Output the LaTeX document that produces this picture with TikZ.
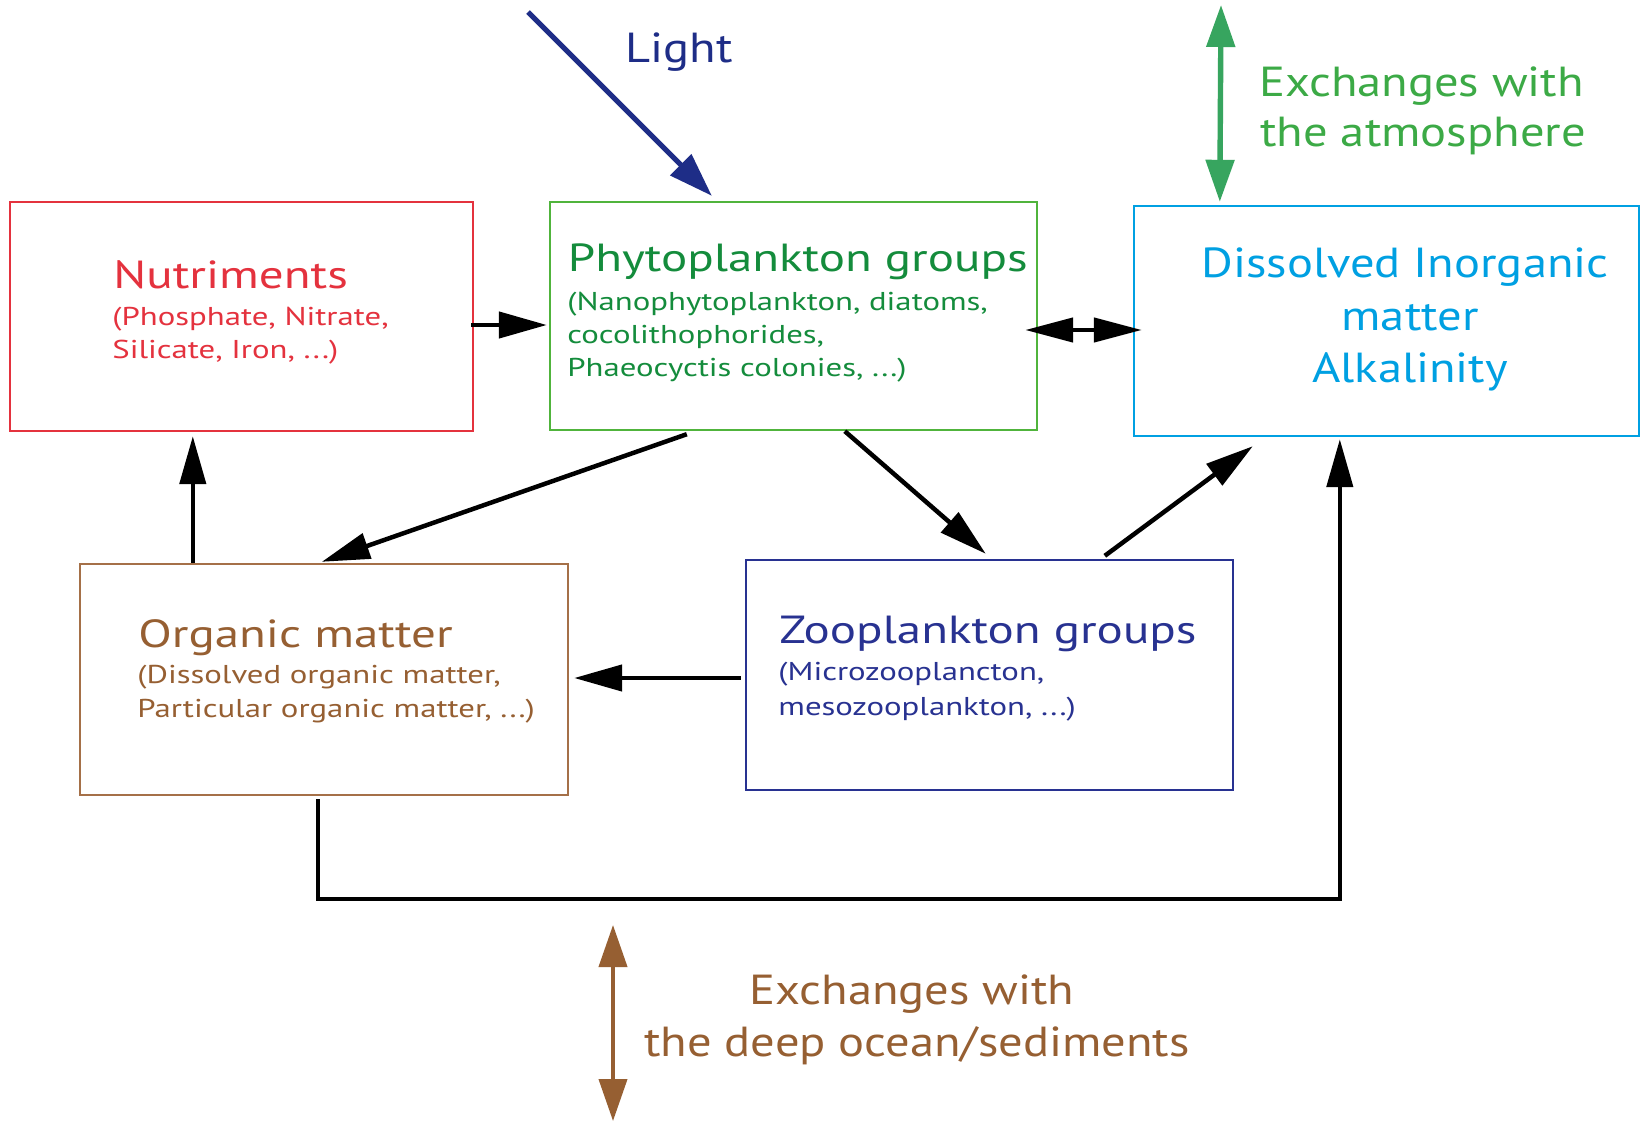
\documentclass[tikz,border=0pt]{standalone}
\usepackage{fontspec}
\setmainfont{PT Sans}
\newfontfamily\fttl[FakeStretch=1.25]{PT Sans}
\newfontfamily\fsub[FakeStretch=1.27]{PT Sans}
\newfontfamily\fbig[FakeStretch=1.155]{PT Sans}
\usetikzlibrary{arrows.meta,calc}
\definecolor{cnutr}{RGB}{228,50,62}
\definecolor{cphyb}{RGB}{80,180,60}
\definecolor{cphyt}{RGB}{20,140,60}
\definecolor{cdic}{RGB}{0,160,226}
\definecolor{catmt}{RGB}{60,170,70}
\definecolor{catma}{RGB}{55,165,95}
\definecolor{czoo}{RGB}{40,50,145}
\definecolor{clight}{RGB}{30,45,135}
\definecolor{cbrt}{RGB}{150,95,50}
\definecolor{cbrb}{RGB}{165,112,72}
\begin{document}
\begin{tikzpicture}[x=0.5pt,y=-0.5pt,
  box/.style={draw,rectangle,inner sep=0pt,line width=1.2pt},
  txt/.style={inner sep=0pt,anchor=base west},
  ttl/.style={txt,font=\fttl\fontsize{19.6}{24}\selectfont},
  sub/.style={txt,font=\fsub\fontsize{12.9}{16}\selectfont},
  big/.style={inner sep=0pt,font=\fbig\fontsize{21}{26}\selectfont},
  conn/.style={draw=black,line width=2.25pt,-{Triangle[length=24pt,width=13pt]}},
  dconn/.style={draw=black,line width=2.25pt,{Triangle[length=24pt,width=12pt]}-{Triangle[length=24pt,width=12pt]}}]
\useasboundingbox (0,0) rectangle (1641,1123);
\fill[white] (0,0) rectangle (1641,1123);
% boxes
\node[box,draw=cnutr,minimum width=231.5pt,minimum height=114.5pt] (nutr) at (241.5,316.5) {};
\node[box,draw=cphyb,minimum width=243.5pt,minimum height=114pt] (phyto) at (793.5,316) {};
\node[box,draw=cdic,minimum width=252.5pt,minimum height=115pt] (dic) at (1386.5,321) {};
\node[box,draw=cbrb,minimum width=244pt,minimum height=115.5pt] (org) at (324,679.5) {};
\node[box,draw=czoo,minimum width=243.5pt,minimum height=115pt] (zoo) at (989.5,675) {};
% texts
\begin{scope}[text=cnutr]
\node[ttl] (nutrT) at (113,288.5) {Nutriments};
\node[sub] (nutrS1) at (112,325) {(Phosphate, Nitrate,};
\node[sub] (nutrS2) at (112,358.5) {Silicate, Iron, ...)};
\end{scope}
\begin{scope}[text=cphyt]
\node[ttl] (phyT) at (567.5,271.5) {Phytoplankton groups};
\node[sub] (phyS1) at (567,310) {(Nanophytoplankton, diatoms,};
\node[sub] (phyS2) at (567,343) {cocolithophorides,};
\node[sub] (phyS3) at (567,376.5) {Phaeocyctis colonies, ...)};
\end{scope}
\begin{scope}[text=cdic]
\node[big,anchor=base] (dicT1) at (1405,277) {Dissolved Inorganic};
\node[big,anchor=base] (dicT2) at (1410,330) {matter};
\node[big,anchor=base] (dicT3) at (1410,382) {Alkalinity};
\end{scope}
\begin{scope}[text=cbrt]
\node[ttl] (orgT) at (138,647) {Organic matter};
\node[sub] (orgS1) at (137,683) {(Dissolved organic matter,};
\node[sub] (orgS2) at (137,717) {Particular organic matter, ...)};
\end{scope}
\begin{scope}[text=czoo]
\node[ttl] (zooT) at (779,643) {Zooplankton groups};
\node[sub] (zooS1) at (778,680) {(Microzooplancton,};
\node[sub] (zooS2) at (778,715) {mesozooplankton, ...)};
\end{scope}
\node[big,anchor=base west,text=clight] (lightT) at (625,63) {Light};
\node[big,anchor=base west,text=catmt] (atmT1) at (1259,97) {Exchanges with};
\node[big,anchor=base west,text=catmt] (atmT2) at (1260,147) {the atmosphere};
\node[big,anchor=base,text=cbrt] (deepT1) at (912,1004) {Exchanges with};
\node[big,anchor=base,text=cbrt] (deepT2) at (917,1056) {the deep ocean/sediments};
% free ends
\coordinate (lightsrc) at (528,12);
\coordinate (atmtop) at (1221,5);
\coordinate (deep1) at (613,925);
\coordinate (deep2) at (613,1121);
% connectors
\draw[line width=2.5pt,draw=clight,-{Triangle[length=22pt,width=14.5pt]},fill=clight] (lightsrc) -- ($(phyto.north west)+(163,-5)$);
\draw[line width=2.7pt,draw=catma,fill=catma,{Triangle[length=21pt,width=14pt]}-{Triangle[length=21pt,width=14pt]}] (atmtop) -- ($(dic.north west)+(87,-3)$);
\draw[line width=2pt,draw=cbrt,fill=cbrt,{Triangle[length=21pt,width=14pt]}-{Triangle[length=21pt,width=14pt]}] (deep1) -- (deep2);
\draw[conn] ($(nutr.east)+(-3,8.5)$) -- ($(phyto.west)+(-2,9)$);
\draw[dconn] ($(phyto.east)+(-13,14)$) -- ($(dic.west)+(9,9)$);
\draw[conn] ($(phyto.south west)+(138,3)$) -- ($(org.north west)+(243,-1)$);
\draw[conn] ($(phyto.south west)+(296,0)$) -- ($(zoo.north west)+(241,-5)$);
\draw[conn] ($(zoo.north west)+(360,-3)$) -- ($(dic.south west)+(120,9)$);
\draw[conn] ($(org.north west)+(114,0)$) -- ($(nutr.south west)+(184,4)$);
\draw[conn] ($(zoo.west)+(-4,3)$) -- ($(org.east)+(5,-1.5)$);
\draw[conn] ($(org.south west)+(239,3)$) -- ++(0,100) -| ($(dic.south west)+(207,2)$);
\end{tikzpicture}
\end{document}
